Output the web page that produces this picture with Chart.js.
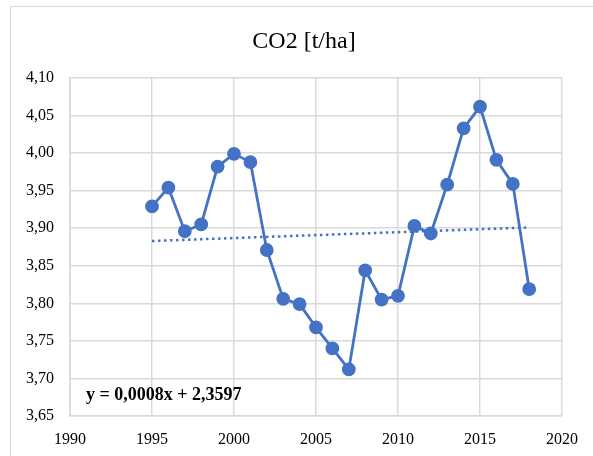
<!DOCTYPE html>
<html>
<head>
<meta charset="utf-8">
<script src="https://cdn.jsdelivr.net/npm/chart.js@4.4.0/dist/chart.umd.min.js"></script>
<style>
  body { margin: 0; background: #fff; }
  #frame { position: absolute; left: 10px; top: 6px; width: 600px; height: 460px; border: 1px solid #d9d9d9; }
  #wrap { position: absolute; left: 0; top: 0; width: 593px; height: 456px; }
</style>
</head>
<body>
<div id="frame"></div>
<div id="wrap"><canvas id="co2Chart" width="593" height="456"></canvas></div>
<script>
// CO2 [t/ha] yearly values
const years = [1995, 1996, 1997, 1998, 1999, 2000, 2001, 2002, 2003, 2004, 2005, 2006,
               2007, 2008, 2009, 2010, 2011, 2012, 2013, 2014, 2015, 2016, 2017, 2018];
const co2 = [3.929, 3.954, 3.896, 3.905, 3.982, 3.999, 3.988, 3.871, 3.806, 3.799, 3.768, 3.740,
             3.712, 3.844, 3.805, 3.810, 3.903, 3.893, 3.958, 4.033, 4.062, 3.991, 3.959, 3.819];
// linear trend endpoints
const trendYears = [1995, 2018];
const trendVals = [3.883, 3.901];
const titleText = 'CO2 [t/ha]';
const equation = 'y = 0,0008x + 2,3597';

const serif = "'Liberation Serif', 'Times New Roman', serif";
const gridCol = '#d9d9d9';
const blue = '#4472C4';

// title and trend equation drawn as canvas text
const textPlugin = {
  id: 'texts',
  afterDraw(chart){
    const c = chart.ctx;
    c.save();
    c.fillStyle = '#000';
    c.textBaseline = 'alphabetic';
    c.textAlign = 'center';
    c.font = '24px ' + serif;
    c.fillText(titleText, 304, 48);
    c.textAlign = 'left';
    c.font = 'bold 18px ' + serif;
    c.fillText(equation, 86, 400);
    c.restore();
  }
};

new Chart(document.getElementById('co2Chart').getContext('2d'), {
  type: 'line',
  data: {
    datasets: [
      {
        data: years.map((y, i) => ({x: y, y: co2[i]})),
        borderColor: blue, backgroundColor: blue, borderWidth: 2.8,
        pointRadius: 5.5, pointHoverRadius: 5.5, tension: 0
      },
      {
        data: trendYears.map((y, i) => ({x: y, y: trendVals[i]})),
        borderColor: blue, borderWidth: 2.5, borderDash: [2.5, 3.5],
        pointRadius: 0, tension: 0
      }
    ]
  },
  options: {
    responsive: false,
    animation: false,
    layout: { padding: { left: 0, right: 31, top: 78, bottom: 0 } },
    plugins: {
      legend: { display: false },
      tooltip: { enabled: false },
      title: { display: false }
    },
    scales: {
      x: {
        type: 'linear', min: 1990, max: 2020,
        afterFit(s){ s.height = 40; },
        grid: { color: gridCol, lineWidth: 1.5, drawTicks: false },
        border: { color: gridCol, width: 1.5 },
        ticks: { stepSize: 5, padding: 14, color: '#000', font: { family: serif, size: 16 },
                 callback: v => String(v) }
      },
      y: {
        min: 3.65, max: 4.10,
        afterFit(s){ s.width = 70; },
        grid: { color: gridCol, lineWidth: 1.5, drawTicks: false },
        border: { color: gridCol, width: 1.5 },
        ticks: { stepSize: 0.05, padding: 16, color: '#000', font: { family: serif, size: 16 },
                 callback: v => v.toFixed(2).replace('.', ',') }
      }
    }
  },
  plugins: [textPlugin]
});
</script>
</body>
</html>
